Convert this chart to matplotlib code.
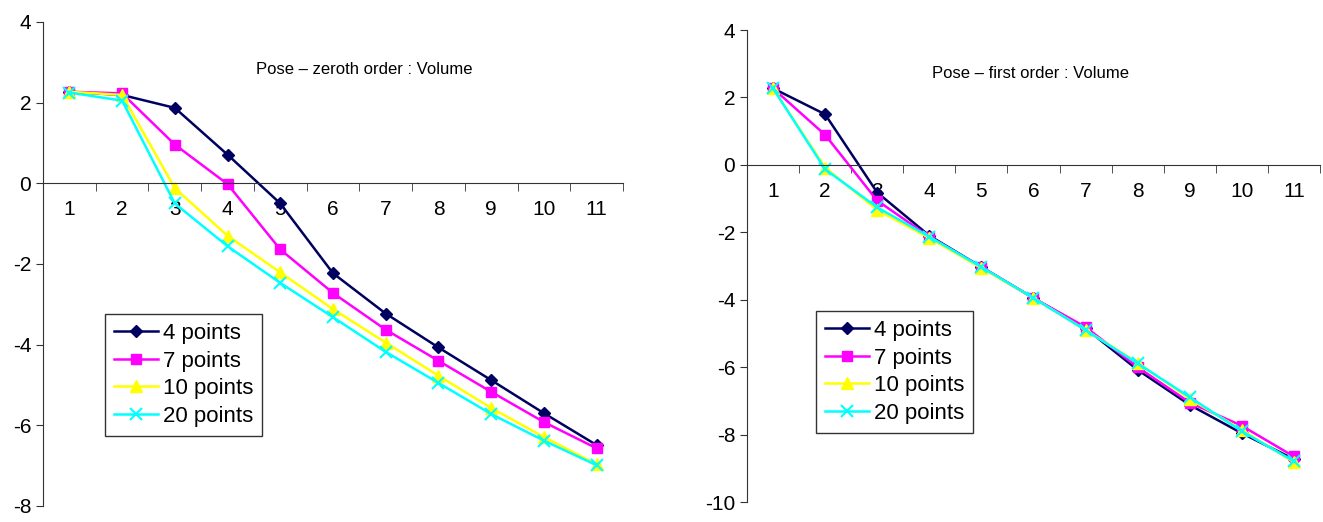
import numpy as np
import matplotlib.pyplot as plt
from matplotlib.ticker import FixedLocator

plt.rcParams['font.family'] = ['Liberation Sans', 'DejaVu Sans']
plt.rcParams['axes.unicode_minus'] = False

steps = list(range(1, 12))
labels = ['4 points', '7 points', '10 points', '20 points']

# Pose - zeroth order : Volume
zeroth_4 = [2.27, 2.19, 1.87, 0.71, -0.50, -2.23, -3.23, -4.07, -4.88, -5.70, -6.49]
zeroth_7 = [2.27, 2.23, 0.96, -0.02, -1.64, -2.72, -3.63, -4.40, -5.17, -5.92, -6.57]
zeroth_10 = [2.27, 2.19, -0.12, -1.30, -2.21, -3.12, -3.95, -4.77, -5.57, -6.29, -6.97]
zeroth_20 = [2.25, 2.05, -0.50, -1.56, -2.47, -3.32, -4.18, -4.95, -5.72, -6.38, -6.99]

# Pose - first order : Volume
first_4 = [2.27, 1.50, -0.82, -2.10, -3.03, -3.95, -4.85, -6.08, -7.12, -7.96, -8.73]
first_7 = [2.27, 0.89, -1.06, -2.13, -3.03, -3.95, -4.81, -6.00, -7.05, -7.74, -8.65]
first_10 = [2.27, -0.08, -1.34, -2.17, -3.06, -3.95, -4.90, -5.87, -6.94, -7.86, -8.82]
first_20 = [2.27, -0.13, -1.26, -2.13, -3.03, -3.95, -4.90, -5.89, -6.89, -7.90, -8.79]

styles = [
    dict(color='#000060', marker='D', markersize=6),
    dict(color='#ff00ff', marker='s', markersize=7),
    dict(color='#ffff00', marker='^', markersize=8),
    dict(color='#00ffff', marker='x', markersize=8, markeredgewidth=1.5),
]


def draw(ax, series, title, ylim, title_pos, legend_pos):
    for vals, lab, st in zip(series, labels, styles):
        ax.plot(steps, vals, label=lab, linewidth=1.8, **st)
    ax.set_xlim(0.5, 11.5)
    ax.set_ylim(*ylim)
    ax.set_yticks(np.arange(ylim[0], ylim[1] + 1, 2))
    ax.spines['top'].set_visible(False)
    ax.spines['right'].set_visible(False)
    ax.spines['bottom'].set_position(('data', 0))
    ax.spines['left'].set_color('#333333')
    ax.spines['bottom'].set_color('#333333')
    ax.set_xticks(steps)
    ax.xaxis.set_minor_locator(FixedLocator(np.arange(0.5, 12, 1)))
    ax.tick_params(axis='x', which='major', length=0, pad=12, labelsize=15)
    ax.tick_params(axis='x', which='minor', length=6, direction='out', color='#333333')
    ax.tick_params(axis='y', length=5, direction='out', labelsize=15, color='#333333')
    ax.text(title_pos[0], title_pos[1], title, transform=ax.figure.transFigure,
            ha='center', va='center', fontsize=12)
    ax.legend(loc='upper left', bbox_to_anchor=legend_pos,
              bbox_transform=ax.figure.transFigure, fontsize=16, frameon=True,
              fancybox=False, edgecolor='black', handlelength=2.0,
              handletextpad=0.2, borderpad=0.4, labelspacing=0.3,
              borderaxespad=0)


fig = plt.figure(figsize=(13.23, 5.22), dpi=100)
ax1 = fig.add_axes([0.0325, 0.0307, 0.4384, 0.9272])
ax2 = fig.add_axes([0.5646, 0.0383, 0.4331, 0.9042])

draw(ax1, [zeroth_4, zeroth_7, zeroth_10, zeroth_20], 'Pose \u2013 zeroth order : Volume',
     (-8, 4), (364 / 1323, 1 - 70 / 522), (105 / 1323, 1 - 314 / 522))
draw(ax2, [first_4, first_7, first_10, first_20], 'Pose \u2013 first order : Volume',
     (-10, 4), (1030 / 1323, 1 - 73 / 522), (816 / 1323, 1 - 311 / 522))

fig.savefig('out.png', dpi=100)
